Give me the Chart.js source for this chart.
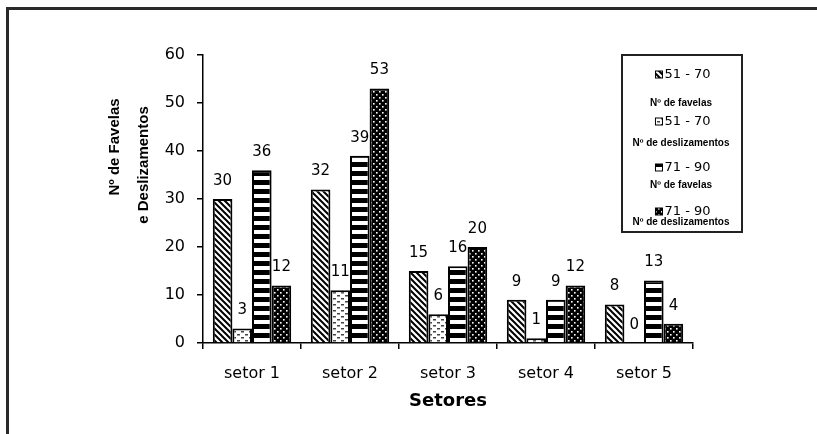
<!DOCTYPE html>
<html>
<head>
<meta charset="utf-8">
<script src="https://cdn.jsdelivr.net/npm/chart.js@4.4.1/dist/chart.umd.min.js"></script>
<style>
  html, body { margin: 0; padding: 0; background: #fff; }
</style>
</head>
<body>
<canvas id="myChart" width="817" height="434"></canvas>
<script>
// categorias e valores
const setores = ['setor 1', 'setor 2', 'setor 3', 'setor 4', 'setor 5'];
const favelas5170 = [30, 32, 15, 9, 8];
const desliz5170 = [3, 11, 6, 1, 0];
const favelas7190 = [36, 39, 16, 9, 13];
const desliz7190 = [12, 53, 20, 12, 4];

const periodos = ['51 - 70', '51 - 70', '71 - 90', '71 - 90'];
const legendas = ['Nº de favelas', 'Nº de deslizamentos', 'Nº de favelas', 'Nº de deslizamentos'];
const tituloY = ['Nº de Favelas', 'e Deslizamentos'];
const tituloX = 'Setores';

const ctx = document.getElementById('myChart').getContext('2d');

function makePattern(kind) {
    const c = document.createElement('canvas');
    const g = c.getContext('2d');
    if (kind === 'diag') {
        c.width = 6; c.height = 6;
        g.fillStyle = '#fff'; g.fillRect(0, 0, 6, 6);
        g.strokeStyle = '#000'; g.lineWidth = 2;
        g.beginPath();
        g.moveTo(-1, -1); g.lineTo(7, 7);
        g.moveTo(-1, 5); g.lineTo(1, 7);
        g.moveTo(5, -1); g.lineTo(7, 1);
        g.stroke();
    } else if (kind === 'light') {
        c.width = 8; c.height = 6;
        g.fillStyle = '#fff'; g.fillRect(0, 0, 8, 6);
        g.fillStyle = '#444';
        g.fillRect(1, 1, 3, 1.5);
        g.fillRect(5, 4, 3, 1.5);
    } else if (kind === 'horiz') {
        c.width = 4; c.height = 9;
        g.fillStyle = '#fff'; g.fillRect(0, 0, 4, 9);
        g.fillStyle = '#000'; g.fillRect(0, 0, 4, 5);
    } else {
        c.width = 6; c.height = 6;
        g.fillStyle = '#000'; g.fillRect(0, 0, 6, 6);
        g.fillStyle = '#fff';
        g.fillRect(1, 1, 1.6, 1.6);
        g.fillRect(4, 4, 1.6, 1.6);
    }
    return ctx.createPattern(c, 'repeat');
}

const moldura = {
    id: 'moldura',
    beforeDraw(chart) {
        const c = chart.ctx;
        c.save();
        c.fillStyle = '#fff';
        c.fillRect(0, 0, chart.width, chart.height);
        c.strokeStyle = '#2a2a2a';
        c.lineWidth = 3;
        c.beginPath();
        c.moveTo(7.5, 434); c.lineTo(7.5, 8.5); c.lineTo(817, 8.5);
        c.stroke();
        c.restore();
    }
};

const rotulos = {
    id: 'rotulos',
    afterDatasetsDraw(chart) {
        const c = chart.ctx;
        c.save();
        c.font = '15px "DejaVu Sans"';
        c.fillStyle = '#000';
        c.textAlign = 'center';
        c.textBaseline = 'middle';
        chart.data.datasets.forEach((ds, i) => {
            chart.getDatasetMeta(i).data.forEach((bar, j) => {
                c.fillText(String(ds.data[j]), bar.x, bar.y - 18);
            });
        });
        c.restore();
    }
};

const tituloEixoY = {
    id: 'tituloEixoY',
    afterDraw(chart) {
        const c = chart.ctx;
        c.save();
        c.font = 'bold 15px "Liberation Sans"';
        c.fillStyle = '#000';
        c.textAlign = 'center';
        c.textBaseline = 'alphabetic';
        [[119, 147], [148, 165]].forEach((p, i) => {
            c.save();
            c.translate(p[0], p[1]);
            c.rotate(-Math.PI / 2);
            c.fillText(tituloY[i], 0, 0);
            c.restore();
        });
        c.restore();
    }
};

const caixaLegenda = {
    id: 'caixaLegenda',
    afterDraw(chart) {
        const c = chart.ctx;
        c.save();
        c.strokeStyle = '#222';
        c.lineWidth = 2;
        c.strokeRect(622, 55, 120, 177);
        const rows = [[75, 103], [122, 143], [168, 185], [212, 222]];
        chart.data.datasets.forEach((ds, i) => {
            const y1 = rows[i][0], y2 = rows[i][1];
            c.font = '13px "DejaVu Sans"';
            const w = c.measureText(periodos[i]).width;
            const x0 = 683 - (w + 9) / 2;
            c.fillStyle = ds.backgroundColor;
            c.fillRect(x0, y1 - 4, 7, 7);
            c.lineWidth = 1;
            c.strokeStyle = '#000';
            c.strokeRect(x0, y1 - 4, 7, 7);
            c.fillStyle = '#000';
            c.textAlign = 'left';
            c.textBaseline = 'middle';
            c.fillText(periodos[i], x0 + 9, y1);
            c.font = 'bold 10px "Liberation Sans"';
            c.textAlign = 'center';
            c.fillText(legendas[i], 681, y2);
        });
        c.restore();
    }
};

const myChart = new Chart(ctx, {
    type: 'bar',
    data: {
        labels: setores,
        datasets: [
            { label: periodos[0] + ' ' + legendas[0], data: favelas5170, backgroundColor: makePattern('diag') },
            { label: periodos[1] + ' ' + legendas[1], data: desliz5170, backgroundColor: makePattern('light') },
            { label: periodos[2] + ' ' + legendas[2], data: favelas7190, backgroundColor: makePattern('horiz') },
            { label: periodos[3] + ' ' + legendas[3], data: desliz7190, backgroundColor: makePattern('dots') }
        ]
    },
    options: {
        responsive: false,
        animation: false,
        layout: { padding: { left: 0, top: 55, right: 124, bottom: 0 } },
        datasets: {
            bar: {
                borderColor: '#000',
                borderWidth: 2,
                categoryPercentage: 0.8,
                barPercentage: 1.0
            }
        },
        plugins: {
            legend: { display: false },
            tooltip: { enabled: false }
        },
        scales: {
            x: {
                afterFit: s => { s.height = 91; },
                grid: { drawOnChartArea: false, tickLength: 6, color: '#000', lineWidth: 1.5, offset: true },
                border: { color: '#000', width: 1.5 },
                ticks: { color: '#000', padding: 15, font: { family: 'DejaVu Sans', size: 16 } },
                title: {
                    display: true,
                    text: tituloX,
                    color: '#000',
                    font: { family: 'DejaVu Sans', size: 18, weight: 'bold' },
                    padding: { top: 0, bottom: 22 }
                }
            },
            y: {
                min: 0,
                max: 60,
                afterFit: s => { s.width = 203; },
                grid: { drawOnChartArea: false, tickLength: 6, color: '#000', lineWidth: 1.5 },
                border: { color: '#000', width: 1.5 },
                ticks: { stepSize: 10, color: '#000', padding: 12, font: { family: 'DejaVu Sans', size: 16 } }
            }
        }
    },
    plugins: [moldura, rotulos, tituloEixoY, caixaLegenda]
});
</script>
</body>
</html>
